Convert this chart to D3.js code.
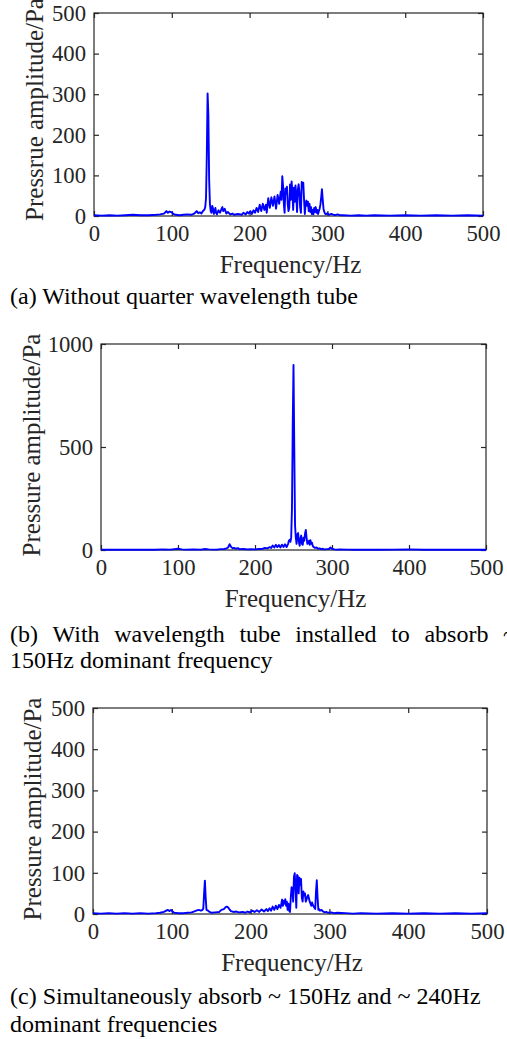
<!DOCTYPE html>
<html>
<head>
<meta charset="utf-8">
<script src="https://cdn.jsdelivr.net/npm/d3@7"></script>
<style>
  body { margin: 0; background: #fff; }
  svg { display: block; }
  text { font-family: "Liberation Serif", "Times New Roman", serif; }
</style>
</head>
<body>
<div id="chart"></div>
<script>
// === Data ===
const freqTicks = [0, 100, 200, 300, 400, 500];
const ampTicksA = [0, 100, 200, 300, 400, 500];
const ampTicksB = [0, 500, 1000];
const ampTicksC = [0, 100, 200, 300, 400, 500];

// [frequency Hz, amplitude Pa]
const spectrumA = [
  [0, 2], [10, 1], [20, 2], [30, 1], [40, 2], [50, 3], [60, 2], [70, 2], [80, 3], [85, 4],
  [90, 6], [93, 12], [95, 8], [97, 11], [100, 9], [102, 5], [105, 3], [110, 2], [115, 3], [120, 4],
  [125, 3], [128, 5], [130, 8], [132, 12], [134, 7], [136, 9], [138, 6], [140, 12], [142, 16], [143, 22],
  [144, 45], [145, 150], [146, 302], [147, 250], [148, 90], [149, 30], [150, 12], [151, 8], [152, 25], [153, 18],
  [154, 5], [155, 10], [156, 20], [157, 8], [158, 4], [160, 14], [162, 8], [164, 18], [165, 22], [166, 12],
  [168, 18], [170, 6], [172, 10], [175, 4], [178, 6], [180, 3], [185, 5], [190, 3], [192, 8], [195, 4],
  [197, 10], [199, 6], [201, 12], [203, 5], [205, 14], [207, 8], [209, 20], [211, 10], [213, 28], [215, 12],
  [217, 30], [219, 15], [221, 28], [222, 8], [224, 44], [226, 20], [228, 46], [230, 25], [232, 48], [234, 18],
  [236, 52], [238, 30], [240, 60], [241, 40], [242, 98], [243, 75], [244, 30], [245, 8], [246, 68], [247, 55],
  [248, 72], [249, 30], [250, 12], [251, 20], [252, 78], [253, 40], [254, 85], [255, 60], [256, 15], [257, 70],
  [258, 35], [259, 75], [260, 50], [261, 10], [262, 65], [263, 78], [264, 60], [265, 20], [266, 8], [267, 84],
  [268, 70], [269, 82], [270, 40], [271, 5], [272, 30], [273, 38], [274, 25], [275, 35], [276, 12], [277, 30],
  [278, 10], [279, 22], [280, 5], [281, 15], [282, 4], [283, 20], [284, 10], [285, 22], [286, 8], [287, 15],
  [288, 5], [289, 12], [290, 18], [291, 28], [292, 45], [293, 66], [294, 40], [295, 18], [296, 10], [297, 6],
  [298, 4], [300, 7], [302, 3], [305, 5], [308, 3], [310, 2], [313, 4], [316, 2], [320, 2], [330, 1],
  [340, 2], [350, 1], [360, 2], [380, 1], [400, 2], [420, 1], [440, 2], [460, 1], [480, 2], [500, 1]
];

const spectrumB = [
  [0, 2], [10, 1], [20, 2], [30, 1], [40, 2], [50, 1], [60, 2], [70, 1], [80, 3], [90, 2],
  [100, 6], [105, 3], [110, 2], [120, 3], [130, 2], [135, 5], [140, 3], [150, 2], [155, 4], [160, 5],
  [163, 8], [165, 12], [167, 28], [169, 15], [171, 8], [173, 10], [175, 6], [178, 9], [180, 4], [185, 5],
  [190, 3], [195, 4], [200, 3], [205, 5], [210, 6], [213, 10], [216, 8], [219, 14], [221, 10], [223, 22],
  [225, 12], [227, 25], [229, 14], [231, 24], [233, 12], [235, 26], [237, 15], [239, 28], [241, 14], [243, 30],
  [244, 45], [245, 50], [246, 40], [247, 60], [248, 200], [249, 600], [250, 898], [251, 500], [252, 120], [253, 60],
  [254, 30], [255, 75], [256, 82], [257, 40], [258, 20], [259, 55], [260, 70], [261, 30], [262, 25], [263, 60],
  [264, 45], [265, 80], [266, 97], [267, 60], [268, 30], [269, 35], [270, 45], [271, 25], [272, 48], [273, 30],
  [274, 35], [275, 20], [276, 15], [278, 10], [280, 12], [282, 6], [284, 8], [286, 4], [288, 6], [290, 3],
  [293, 4], [296, 5], [298, 12], [300, 6], [303, 3], [306, 2], [310, 3], [320, 2], [330, 1], [340, 2],
  [360, 1], [380, 2], [400, 3], [420, 1], [440, 2], [460, 1], [480, 2], [500, 1]
];

const spectrumC = [
  [0, 2], [10, 1], [20, 2], [30, 1], [40, 2], [50, 1], [60, 2], [70, 1], [80, 2], [85, 3],
  [90, 5], [93, 8], [95, 10], [97, 7], [99, 10], [101, 6], [103, 3], [108, 2], [115, 2], [120, 3],
  [125, 4], [128, 6], [131, 8], [134, 10], [137, 8], [139, 10], [140, 14], [141, 50], [142, 81], [143, 40],
  [144, 10], [146, 8], [148, 5], [150, 3], [155, 4], [160, 5], [163, 10], [166, 12], [169, 18], [171, 17],
  [173, 12], [175, 7], [178, 5], [182, 6], [185, 4], [190, 5], [193, 3], [196, 6], [199, 4], [202, 8],
  [205, 5], [208, 9], [211, 5], [214, 11], [217, 6], [220, 12], [222, 7], [224, 14], [226, 8], [228, 18],
  [230, 10], [232, 20], [234, 12], [236, 22], [238, 15], [240, 35], [241, 20], [242, 32], [243, 25], [244, 36],
  [245, 20], [246, 30], [247, 10], [248, 25], [249, 8], [250, 5], [251, 40], [252, 65], [253, 60], [254, 30],
  [255, 90], [256, 99], [257, 60], [258, 15], [259, 95], [260, 91], [261, 50], [262, 88], [263, 70], [264, 85],
  [265, 40], [266, 30], [267, 55], [268, 45], [269, 50], [270, 30], [271, 35], [272, 42], [273, 46], [274, 38],
  [275, 30], [276, 25], [277, 20], [278, 28], [279, 22], [280, 18], [281, 15], [282, 12], [283, 55], [284, 82],
  [285, 40], [286, 10], [287, 12], [288, 8], [290, 10], [292, 6], [294, 4], [296, 5], [298, 3], [302, 4],
  [306, 2], [310, 3], [320, 2], [330, 1], [340, 2], [360, 1], [380, 2], [400, 1], [420, 2], [440, 1],
  [460, 2], [480, 1], [500, 2]
];

// === Panel layout ===
const panels = [
  {
    data: spectrumA, yTicks: ampTicksA,
    box: { left: 94, right: 483, top: 13, bottom: 216 },
    ylabel: "Pressrue amplitude/Pa", ylabelX: 43, ylabelShift: -5,
    caption: [{ text: "(a) Without quarter wavelength tube", y: 304 }]
  },
  {
    data: spectrumB, yTicks: ampTicksB,
    box: { left: 101, right: 486, top: 344, bottom: 550 },
    ylabel: "Pressure amplitude/Pa", ylabelX: 40, ylabelShift: -2,
    caption: [
      { text: "(b) With wavelength tube installed to absorb ~", y: 642, justify: 506 },
      { text: "150Hz dominant frequency", y: 668 }
    ]
  },
  {
    data: spectrumC, yTicks: ampTicksC,
    box: { left: 93, right: 487, top: 708, bottom: 914 },
    ylabel: "Pressure amplitude/Pa", ylabelX: 41, ylabelShift: -2,
    caption: [
      { text: "(c) Simultaneously absorb ~ 150Hz and ~ 240Hz", y: 1004 },
      { text: "dominant frequencies", y: 1032 }
    ]
  }
];

const width = 507;
const height = 1039;
const axisColor = "#262626";
const serif = '"Liberation Serif", "Times New Roman", serif';

const svg = d3.select("#chart")
  .append("svg")
  .attr("width", width)
  .attr("height", height);

svg.append("rect").attr("width", width).attr("height", height).attr("fill", "#fff");

panels.forEach((p) => {
  const b = p.box;
  const yMax = d3.max(p.yTicks);

  const x = d3.scaleLinear().domain([0, 500]).range([b.left, b.right]);
  const y = d3.scaleLinear().domain([0, yMax]).range([b.bottom, b.top]);

  const g = svg.append("g");

  // box
  g.append("rect")
    .attr("x", b.left).attr("y", b.top)
    .attr("width", b.right - b.left).attr("height", b.bottom - b.top)
    .attr("fill", "none").attr("stroke", axisColor).attr("stroke-width", 1.2);

  // inward ticks on all four sides
  const tickLen = 5;
  const fmt = d3.format("d");
  const axes = [
    d3.axisBottom(x).tickValues(freqTicks).tickSizeInner(-tickLen).tickSizeOuter(0).tickPadding(9).tickFormat(fmt),
    d3.axisTop(x).tickValues(freqTicks).tickSizeInner(-tickLen).tickSizeOuter(0).tickFormat(""),
    d3.axisLeft(y).tickValues(p.yTicks).tickSizeInner(-tickLen).tickSizeOuter(0).tickPadding(8).tickFormat(fmt),
    d3.axisRight(y).tickValues(p.yTicks).tickSizeInner(-tickLen).tickSizeOuter(0).tickFormat("")
  ];
  const shifts = [
    `translate(0,${b.bottom})`, `translate(0,${b.top})`,
    `translate(${b.left},0)`, `translate(${b.right},0)`
  ];
  axes.forEach((ax, i) => {
    const a = g.append("g").attr("transform", shifts[i]).call(ax);
    a.attr("font-family", serif);
    a.select(".domain").remove();
    a.selectAll("line").attr("stroke", axisColor).attr("stroke-width", 1.2);
    a.selectAll("text")
      .attr("fill", axisColor)
      .style("font-family", serif)
      .style("font-size", "22.7px");
  });

  // spectrum line
  const line = d3.line().x((d) => x(d[0])).y((d) => y(d[1]));
  g.append("path")
    .datum(p.data)
    .attr("d", line)
    .attr("fill", "none")
    .attr("stroke", "#0000ff")
    .attr("stroke-width", 1.9)
    .attr("stroke-linejoin", "round");

  // axis labels
  g.append("text")
    .attr("x", (b.left + b.right) / 2 + 2)
    .attr("y", b.bottom + 57)
    .attr("text-anchor", "middle")
    .attr("fill", axisColor)
    .style("font-size", "25px")
    .text("Frequency/Hz");

  g.append("text")
    .attr("transform", `translate(${p.ylabelX},${(b.top + b.bottom) / 2 + p.ylabelShift}) rotate(-90)`)
    .attr("text-anchor", "middle")
    .attr("fill", axisColor)
    .style("font-size", "25px")
    .text(p.ylabel);

  // caption
  p.caption.forEach((c) => {
    if (c.justify) {
      // spread the words over the full line width, like justified text
      const words = c.text.split(" ");
      const t = g.append("text").attr("y", c.y).style("font-size", "24px").attr("fill", "#000");
      const spans = words.map((w) => t.append("tspan").text(w));
      const widths = spans.map((s) => s.node().getComputedTextLength());
      const gap = (c.justify - d3.sum(widths)) / (words.length - 1);
      let cx = 10;
      spans.forEach((s, i) => {
        s.attr("x", cx);
        cx += widths[i] + gap;
      });
    } else {
      g.append("text")
        .attr("x", 10).attr("y", c.y)
        .style("font-size", "24px")
        .attr("fill", "#000")
        .text(c.text);
    }
  });
});
</script>
</body>
</html>
